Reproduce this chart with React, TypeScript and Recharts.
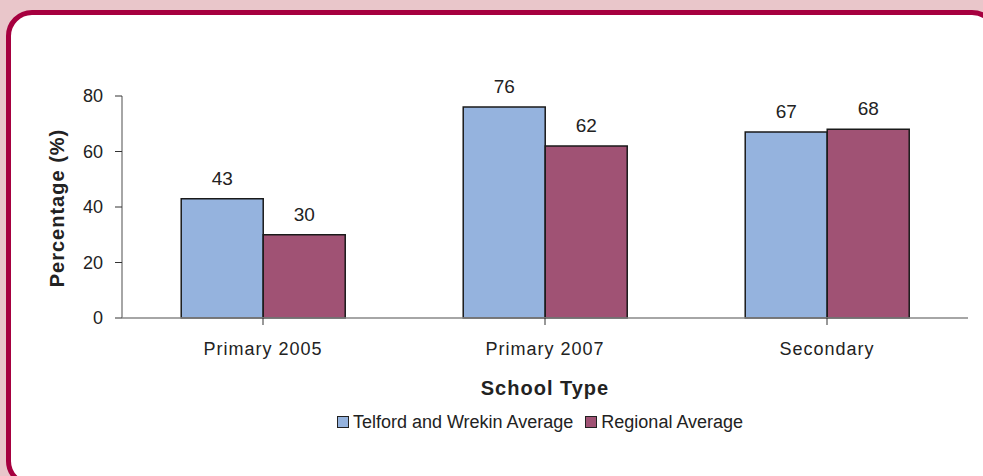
import React from 'react';
import { BarChart, Bar, XAxis, YAxis, Legend, LabelList, Label } from 'recharts';

const categories = ['Primary 2005', 'Primary 2007', 'Secondary'];
const telfordValues = [43, 76, 67];
const regionalValues = [30, 62, 68];
const yTicks = [0, 20, 40, 60, 80];

const seriesNames = ['Telford and Wrekin Average', 'Regional Average'];
const BLUE = '#95b3de';
const RED = '#a05274';
const FONT = '"Liberation Sans", Arial, sans-serif';

const data = categories.map((name, i) => ({
  name,
  telford: telfordValues[i],
  regional: regionalValues[i],
}));

// category names are drawn a little wider than plain Arial
const CategoryTick = ({ x, y, payload }: any) => (
  <text
    x={x}
    y={y}
    dy={13}
    textAnchor="middle"
    fontFamily={FONT}
    fontSize={18}
    letterSpacing={1}
    fill="#222"
  >
    {payload.value}
  </text>
);

const LegendContent = () => (
  <div
    style={{
      display: 'flex',
      justifyContent: 'center',
      alignItems: 'center',
      fontFamily: FONT,
      fontSize: 18,
      color: '#222',
      height: 22,
    }}
  >
    {[BLUE, RED].map((c, i) => (
      <span key={i} style={{ display: 'flex', alignItems: 'center', marginRight: i === 0 ? 12 : 0 }}>
        <span
          style={{
            width: 10,
            height: 10,
            background: c,
            border: '1px solid #222',
            display: 'inline-block',
            marginRight: 4,
          }}
        />
        {seriesNames[i]}
      </span>
    ))}
  </div>
);

export default function App() {
  return (
    <div
      style={{
        position: 'fixed',
        left: 0,
        top: 0,
        width: 983,
        height: 476,
        overflow: 'hidden',
        background: '#e9c6ca',
      }}
    >
      <div
        style={{
          position: 'absolute',
          left: 6,
          top: 10,
          width: 992,
          height: 477,
          boxSizing: 'border-box',
          border: '5px solid #a6003f',
          borderRadius: 26,
          background: '#fff',
        }}
      />
      <div style={{ position: 'absolute', left: 0, top: 0 }}>
        <BarChart
          width={983}
          height={476}
          data={data}
          margin={{ top: 96, right: 15, left: 40, bottom: 43 }}
          barCategoryGap="21%"
          barGap={0}
        >
          <XAxis
            dataKey="name"
            height={93}
            axisLine={{ stroke: '#888', strokeWidth: 1.5 }}
            tickLine={{ stroke: '#333' }}
            tickSize={7}
            tickMargin={17}
            interval={0}
            tick={<CategoryTick />}
          >
            <Label
              content={({ viewBox }: any) => (
                <text
                  x={viewBox.x + viewBox.width / 2}
                  y={viewBox.y + 77}
                  textAnchor="middle"
                  fontFamily={FONT}
                  fontWeight="bold"
                  fontSize={20}
                  letterSpacing={1}
                  fill="#222"
                >
                  School Type
                </text>
              )}
            />
          </XAxis>
          <YAxis
            width={82}
            domain={[0, 80]}
            ticks={yTicks}
            axisLine={{ stroke: '#888', strokeWidth: 1.5 }}
            tickLine={{ stroke: '#333' }}
            tickSize={7}
            tickMargin={12}
            tick={{ fill: '#222', fontSize: 18, fontFamily: FONT }}
          >
            <Label
              content={({ viewBox }: any) => {
                const cx = 64;
                const cy = viewBox.y + viewBox.height / 2 + 1;
                return (
                  <text
                    x={cx}
                    y={cy}
                    transform={`rotate(-90 ${cx} ${cy})`}
                    textAnchor="middle"
                    fontFamily={FONT}
                    fontWeight="bold"
                    fontSize={20}
                    letterSpacing={1}
                    fill="#222"
                  >
                    Percentage (%)
                  </text>
                );
              }}
            />
          </YAxis>
          <Legend
            verticalAlign="bottom"
            height={22}
            content={<LegendContent />}
            wrapperStyle={{ left: 97, width: 886 }}
          />
          <Bar
            dataKey="telford"
            name={seriesNames[0]}
            fill={BLUE}
            stroke="#1a1a1a"
            strokeWidth={1.5}
            isAnimationActive={false}
          >
            <LabelList
              dataKey="telford"
              position="top"
              offset={14}
              fill="#222"
              fontSize={19}
              fontFamily={FONT}
            />
          </Bar>
          <Bar
            dataKey="regional"
            name={seriesNames[1]}
            fill={RED}
            stroke="#1a1a1a"
            strokeWidth={1.5}
            isAnimationActive={false}
          >
            <LabelList
              dataKey="regional"
              position="top"
              offset={14}
              fill="#222"
              fontSize={19}
              fontFamily={FONT}
            />
          </Bar>
        </BarChart>
      </div>
    </div>
  );
}
